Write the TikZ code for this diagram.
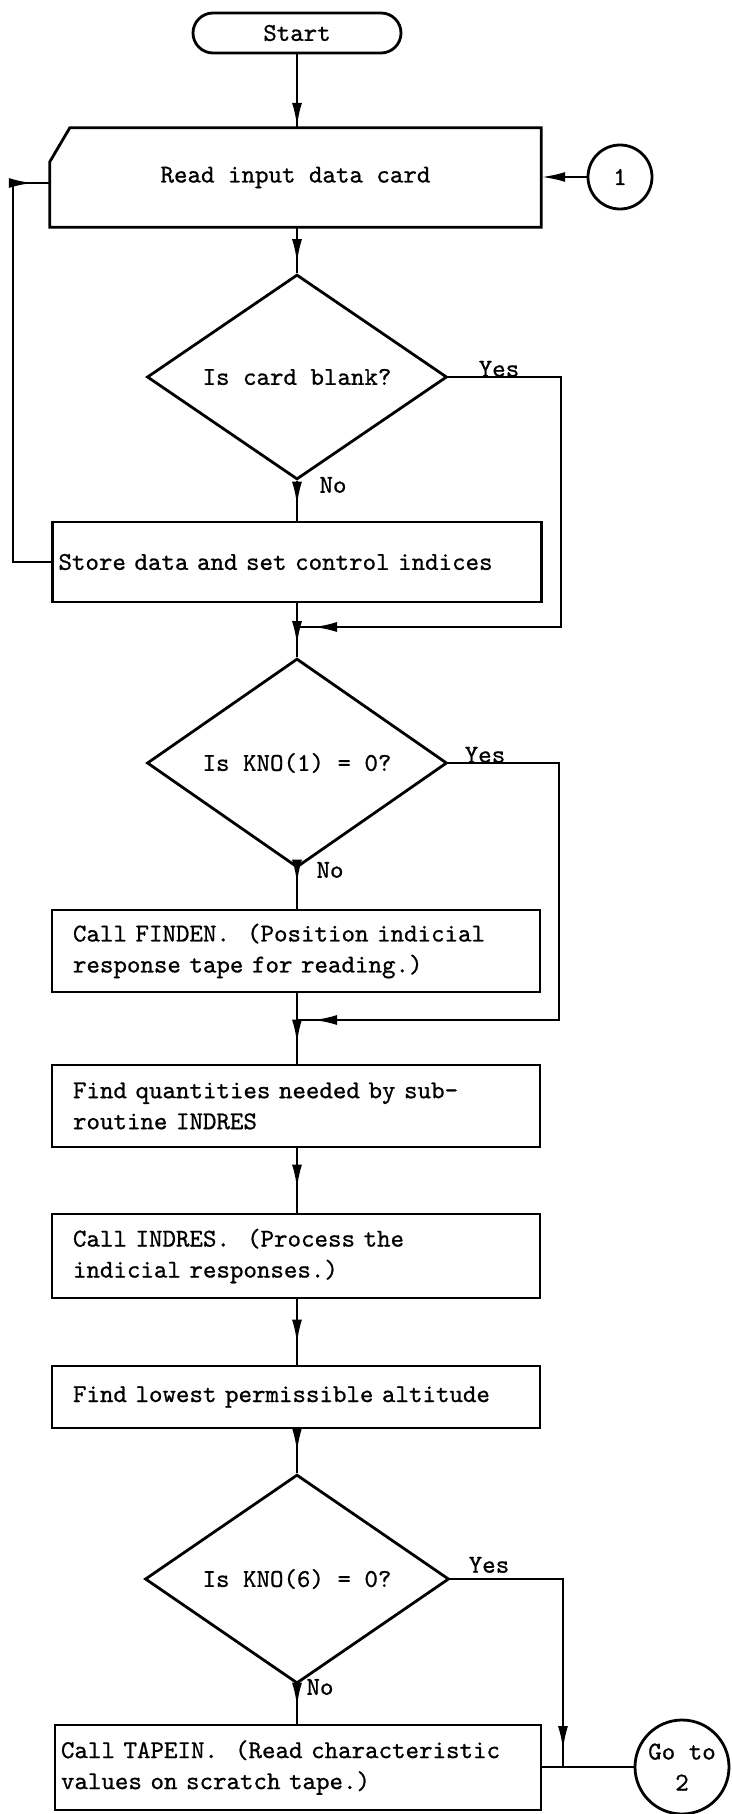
\documentclass[tikz,border=0pt]{standalone}
\usepackage{fontspec}
\newfontfamily\tw[FakeBold=0.8]{lmmono10-regular.otf}
\usetikzlibrary{arrows.meta,decorations.markings,shapes.geometric}
\tikzset{
  every node/.style={font=\tw\fontsize{25.7}{31}\selectfont},
  shapeline/.style={draw, line width=2.8pt},
  procbox/.style={shapeline, rectangle, inner ysep=0pt, align=left},
  termbox/.style={shapeline, rectangle, rounded corners=20pt, minimum width=208pt, minimum height=40pt, inner sep=0pt},
  decbox/.style={shapeline, diamond, minimum width=300pt, minimum height=174pt, inner sep=0pt},
  circbox/.style={shapeline, circle, inner sep=0pt, align=center},
  conn/.style={line width=2.6pt},
  lbl/.style={inner sep=0pt},
  midtip/.style={postaction={decorate},decoration={markings,mark=at position #1 with {\arrow{Latex[length=24pt,width=10pt]}}}},
  endtip/.style={-{Latex[length=24pt,width=10pt]}}
}
\begin{document}
\begin{tikzpicture}[x=1pt,y=-1pt]
\useasboundingbox (0,0) rectangle (731,1814);

% nodes
\node[termbox] (start) at (297,33) {Start};
\node[minimum width=491pt, minimum height=99pt, inner sep=0pt] (read) at (295.5,177.5) {Read input data card};
\draw[shapeline] ([xshift=20pt]read.north west) -- (read.north east) -- (read.south east) -- (read.south west) -- ([yshift=-34pt]read.north west) -- cycle;
\node[circbox, minimum size=64pt] (c1) at (620,177) {1};

\node[decbox] (d1) at (297,377) {Is card blank?};
\node[procbox, minimum width=489pt, minimum height=80pt, text width=477pt, inner xsep=6pt] (store) at (297,562) {Store data and set control indices};

\node[decbox] (d2) at (297,763) {Is KNO(1) = 0?};
\node[procbox, minimum width=488pt, minimum height=82pt, text width=446pt, inner xsep=21pt] (finden) at (296,951) {Call FINDEN.\ \ (Position indicial\\response tape for reading.)};

\node[procbox, minimum width=488pt, minimum height=82pt, text width=446pt, inner xsep=21pt] (qty) at (296,1106) {Find quantities needed by sub-\\routine INDRES};
\node[procbox, minimum width=488pt, minimum height=84pt, text width=446pt, inner xsep=21pt] (indres) at (296,1256) {Call INDRES.\ \ (Process the\\indicial responses.)};
\node[procbox, minimum width=488pt, minimum height=62pt, text width=446pt, inner xsep=21pt] (lowest) at (296,1397) {Find lowest permissible altitude};

\node[decbox, minimum width=304pt, minimum height=176pt] (d3) at (297,1579) {Is KNO(6) = 0?};
\node[procbox, minimum width=486pt, minimum height=85pt, text width=474pt, inner xsep=6pt] (tapein) at (298,1767.5) {Call TAPEIN.\ \ (Read characteristic\\values on scratch tape.)};
\node[circbox, minimum size=94pt] (c2) at (682,1767) {Go to\\2};

% labels
\node[lbl, anchor=south] (yes1) at (499,377) {Yes};
\node[lbl] (no1) at (333,485) {No};
\node[lbl, anchor=south] (yes2) at (485,763) {Yes};
\node[lbl] (no2) at (330,870) {No};
\node[lbl, anchor=south] (yes3) at (489,1573) {Yes};
\node[lbl] (no3) at (320,1687) {No};

% helper coordinates
\coordinate (lp) at (13,183);
\coordinate (m1) at (297,627);
\coordinate (r1) at (561,627);
\coordinate (m2) at (297,1020);
\coordinate (r2) at (559,1020);
\coordinate (r3) at (563,1768);

% connectors
\draw[conn, midtip=-1pt] (start.south) -- (start.south |- read.north);
\draw[conn, endtip] (c1.west) -- (c1.west -| read.east);
\draw[conn, midtip=-10pt] (d1.north |- read.south) -- (d1.north);
\draw[conn, midtip=-15pt] (d1.south) -- (d1.south |- store.north);
\draw[conn, midtip=-17pt] (store.west) -| (lp) -- (lp -| read.west);
\draw[conn, midtip=-16pt] (d1.east) -| (r1) -- (m1);
\draw[conn, midtip=-12pt] (d1.south |- store.south) -- (m1) -- (d2.north);

\draw[conn, midtip=-25pt] (d2.south) -- (d2.south |- finden.north);
\draw[conn, midtip=-16pt] (d2.east) -| (r2) -- (m2);
\draw[conn, midtip=-20pt] (d2.south |- finden.south) -- (m2) -- (d2.south |- qty.north);

\draw[conn, midtip=-24pt] (d2.south |- qty.south) -- (d2.south |- indres.north);
\draw[conn, midtip=-21pt] (d2.south |- indres.south) -- (d2.south |- lowest.north);
\draw[conn, midtip=-21pt] (d3.north |- lowest.south) -- (d3.north);
\draw[conn, midtip=-17pt] (d3.south) -- (d3.south |- tapein.north);
\draw[conn, midtip=-18pt] (d3.east) -| (r3);
\draw[conn] (tapein.east |- c2.west) -- (c2.west);
\end{tikzpicture}
\end{document}
